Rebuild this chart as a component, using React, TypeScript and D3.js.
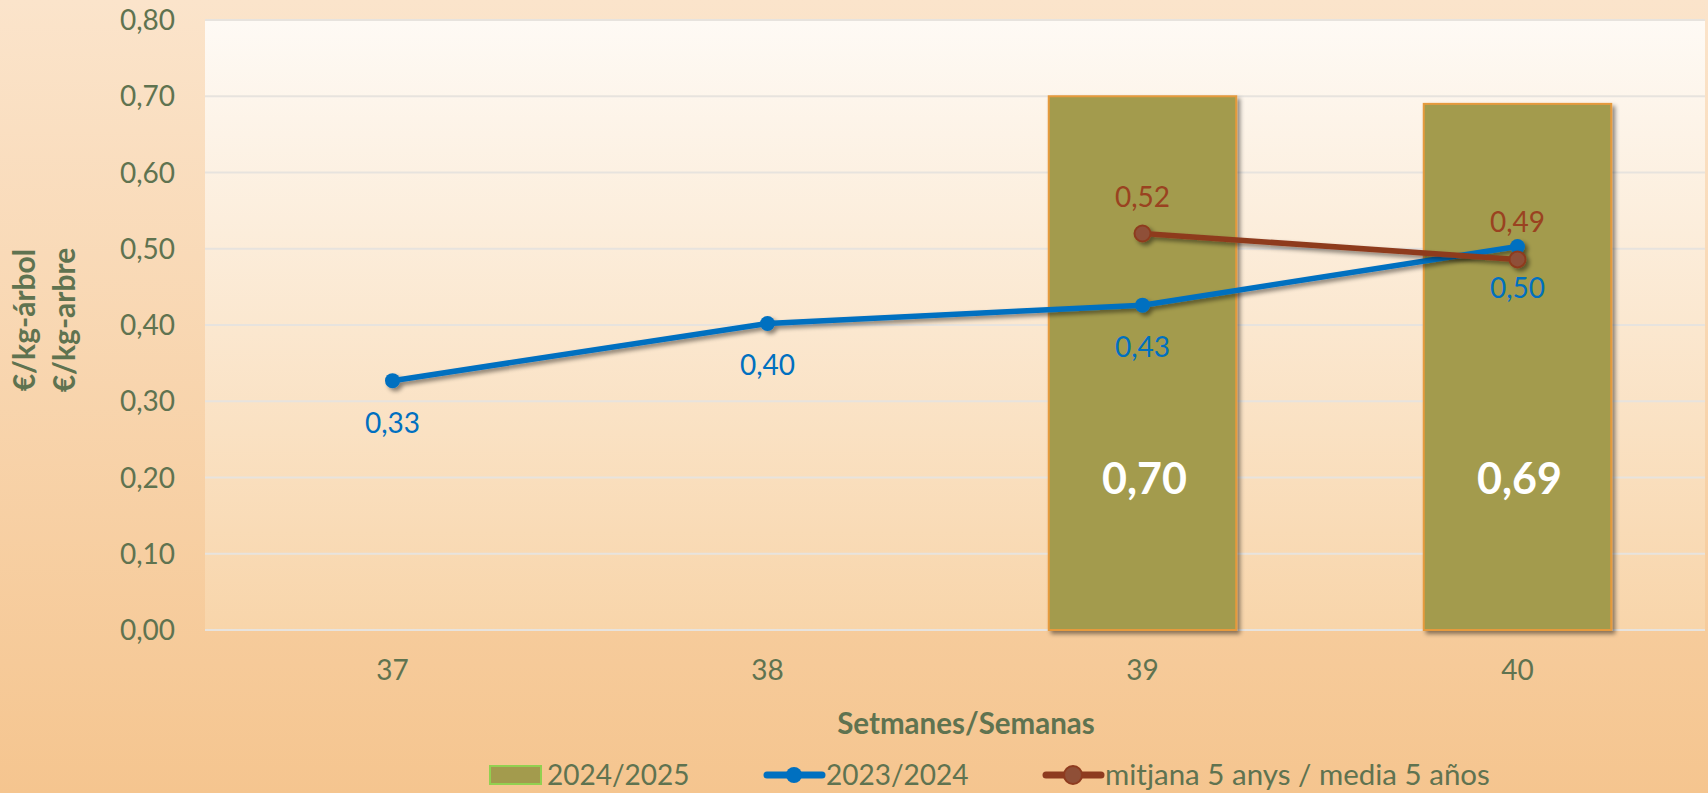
import React from "react";
import * as d3 from "d3";

const weeks = ["37", "38", "39", "40"];
const season2425: (number | null)[] = [null, null, 0.7, 0.69];
const season2324: number[] = [0.327, 0.402, 0.426, 0.503];
const mean5: (number | null)[] = [null, null, 0.52, 0.486];
const yTicks = [0, 0.1, 0.2, 0.3, 0.4, 0.5, 0.6, 0.7, 0.8];

const W = 1708;
const H = 793;
const FONT = "Lato, 'Open Sans', sans-serif";
const TXT = "#5f7350";
const BLUE = "#0070c0";
const BROWN = "#8e3b1f";
const BAR = "#a39b4d";

const fmt = (v: number) => v.toFixed(2).replace(".", ",");

export default function App() {
  const x = d3.scaleBand<string>().domain(weeks).range([205, 1705]).padding(0);
  const y = d3.scaleLinear().domain([0, 0.8]).range([630, 20]);
  const cx = (w: string) => (x(w) as number) + x.bandwidth() / 2;
  const barW = x.bandwidth() * 0.5;

  const line = d3
    .line<{ w: string; v: number }>()
    .x((d) => cx(d.w))
    .y((d) => y(d.v));

  const blueData = weeks.map((w, i) => ({ w, v: season2324[i] }));
  const brownData = weeks
    .map((w, i) => ({ w, v: mean5[i] as number }))
    .filter((d) => d.v != null);

  return (
    <svg
      width={W}
      height={H}
      style={{ position: "absolute", left: 0, top: 0 }}
      fontFamily={FONT}
    >
      <defs>
        <linearGradient id="bg" x1="0" y1="0" x2="0" y2="1">
          <stop offset="0" stopColor="#fbe4cb" />
          <stop offset="1" stopColor="#f5c58f" />
        </linearGradient>
        <linearGradient id="plot" x1="0" y1="0" x2="0" y2="1">
          <stop offset="0" stopColor="#fefaf5" />
          <stop offset="1" stopColor="#f8d5aa" />
        </linearGradient>
        <filter id="shadow" x="-20%" y="-20%" width="140%" height="140%">
          <feDropShadow dx="3" dy="3" stdDeviation="2" floodColor="#000" floodOpacity="0.45" />
        </filter>
      </defs>
      <rect x={0} y={0} width={W} height={H} fill="url(#bg)" />
      <rect x={205} y={y(0.8)} width={1500} height={y(0) - y(0.8)} fill="url(#plot)" />

      {yTicks.map((t) => (
        <g key={t}>
          <line x1={205} x2={1705} y1={y(t)} y2={y(t)} stroke="#e7e3de" strokeWidth={2} />
          <text x={175} y={y(t) + 10} textAnchor="end" fontSize={28} fill={TXT}>
            {fmt(t)}
          </text>
        </g>
      ))}

      {weeks.map((w) => (
        <text key={w} x={cx(w)} y={680} textAnchor="middle" fontSize={28} fill={TXT}>
          {w}
        </text>
      ))}

      {weeks.map((w, i) =>
        season2425[i] == null ? null : (
          <rect
            key={"b" + w}
            x={cx(w) - barW / 2}
            y={y(season2425[i] as number)}
            width={barW}
            height={y(0) - y(season2425[i] as number)}
            fill={BAR}
            stroke="#e69a3e"
            strokeWidth={2}
            filter="url(#shadow)"
          />
        )
      )}
      {weeks.map((w, i) =>
        season2425[i] == null ? null : (
          <text
            key={"bl" + w}
            x={cx(w) + 2}
            y={y(0) - 136}
            textAnchor="middle"
            fontSize={43}
            fontWeight="bold"
            fill="#ffffff"
          >
            {fmt(season2425[i] as number)}
          </text>
        )
      )}

      <g filter="url(#shadow)">
        <path d={line(blueData) as string} fill="none" stroke={BLUE} strokeWidth={5.5} strokeLinejoin="round" />
        {blueData.map((d) => (
          <circle key={"bc" + d.w} cx={cx(d.w)} cy={y(d.v)} r={7.5} fill={BLUE} />
        ))}
      </g>
      <g filter="url(#shadow)">
        <path d={line(brownData) as string} fill="none" stroke={BROWN} strokeWidth={5.5} strokeLinejoin="round" />
        {brownData.map((d) => (
          <circle key={"rc" + d.w} cx={cx(d.w)} cy={y(d.v)} r={8} fill="#8f4f37" stroke={BROWN} strokeWidth={2} />
        ))}
      </g>

      {blueData.map((d) => (
        <text key={"bt" + d.w} x={cx(d.w)} y={y(d.v) + 52} textAnchor="middle" fontSize={28} fill={BLUE}>
          {fmt(d.v)}
        </text>
      ))}
      {brownData.map((d) => (
        <text key={"rt" + d.w} x={cx(d.w)} y={y(d.v) - 27} textAnchor="middle" fontSize={28} fill="#9a4220">
          {fmt(d.v)}
        </text>
      ))}

      <text x={966} y={734} textAnchor="middle" fontSize={29.5} fontWeight="bold" fill={TXT}>
        Setmanes/Semanas
      </text>

      <g transform="translate(35,320) rotate(-90)">
        <text x={0} y={0} textAnchor="middle" fontSize={30} fontWeight="bold" fill={TXT}>
          €/kg-árbol
        </text>
        <text x={0} y={40} textAnchor="middle" fontSize={30} fontWeight="bold" fill={TXT}>
          €/kg-arbre
        </text>
      </g>

      {/* legend */}
      <rect x={490} y={766} width={51} height={18} fill={BAR} stroke="#92d050" strokeWidth={2} />
      <text x={547} y={785} fontSize={28} fill={TXT}>2024/2025</text>
      <line x1={767} x2={822} y1={775} y2={775} stroke={BLUE} strokeWidth={7} strokeLinecap="round" />
      <circle cx={794} cy={775} r={8} fill={BLUE} />
      <text x={826} y={785} fontSize={28} fill={TXT}>2023/2024</text>
      <line x1={1046} x2={1101} y1={775} y2={775} stroke={BROWN} strokeWidth={7} strokeLinecap="round" />
      <circle cx={1073} cy={775} r={9} fill="#8f4f37" stroke={BROWN} strokeWidth={2} />
      <text x={1105} y={785} fontSize={29.5} fill={TXT}>mitjana 5 anys / media 5 años</text>
    </svg>
  );
}
